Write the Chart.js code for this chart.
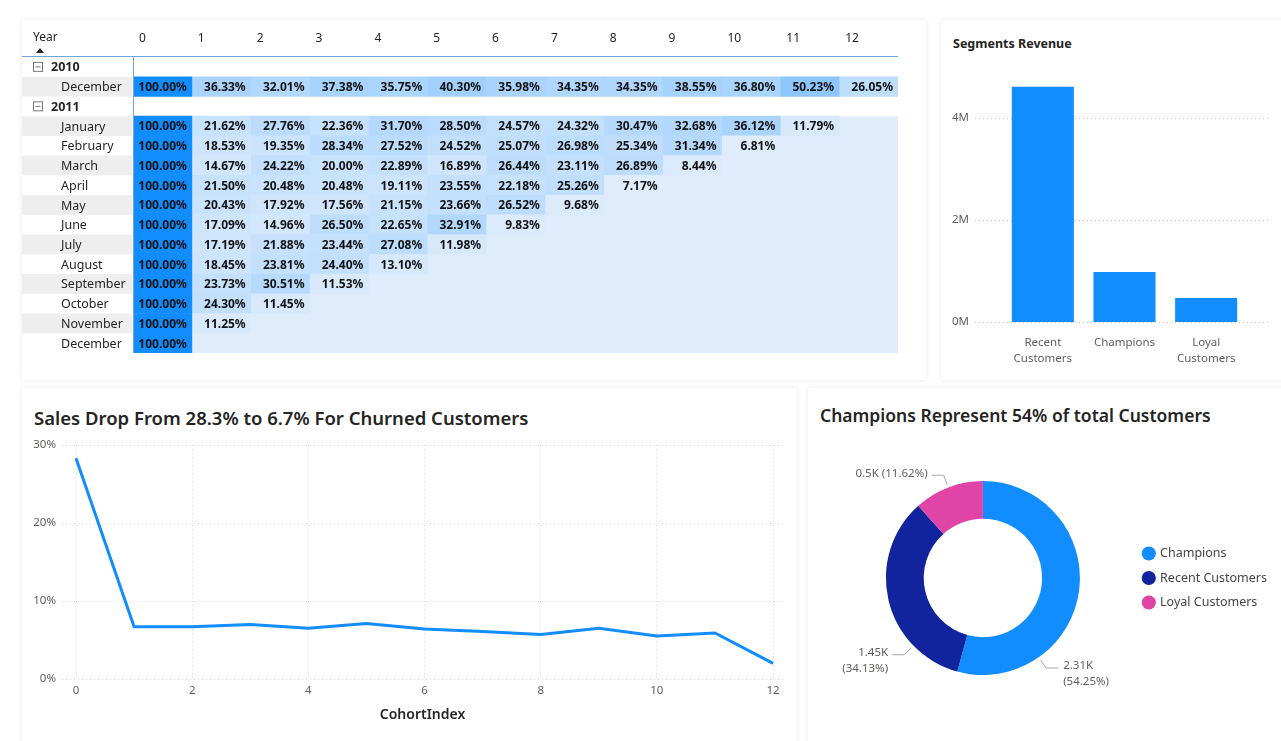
<!DOCTYPE html>
<html>
<head>
<meta charset="utf-8">
<script src="https://cdn.jsdelivr.net/npm/chart.js@4.4.1/dist/chart.umd.min.js"></script>
<style>
  html, body { margin: 0; padding: 0; background: #fff; }
  body { width: 1281px; height: 741px; position: relative; overflow: hidden; font-family: 'Noto Sans', sans-serif; color: #252423; }
  .panel { position: absolute; background: #fff; box-shadow: 0 0 6px rgba(0,0,0,0.08); }
  .title { position: absolute; white-space: nowrap; font-weight: 600; color: #252423; }
  canvas { position: absolute; }
</style>
</head>
<body>
<div class="panel" style="left:22px;top:20px;width:904px;height:360px"></div>
<div class="panel" style="left:941px;top:20px;width:350px;height:360px"></div>
<div class="panel" style="left:22px;top:388px;width:775px;height:365px"></div>
<div class="panel" style="left:808px;top:388px;width:480px;height:365px"></div>

<div class="title" style="left:953px;top:35px;font-size:12.5px;font-weight:700">Segments Revenue</div>
<div class="title" style="left:34px;top:405px;font-size:18.5px">Sales Drop From 28.3% to 6.7% For Churned Customers</div>
<div class="title" style="left:820px;top:403px;font-size:17.5px">Champions Represent 54% of total Customers</div>

<canvas id="cohortChart" width="880" height="335" style="left:22px;top:25px"></canvas>
<canvas id="segmentChart" width="340" height="320" style="left:941px;top:60px"></canvas>
<canvas id="churnChart" width="775" height="305" style="left:22px;top:430px"></canvas>
<canvas id="customerChart" width="473" height="305" style="left:808px;top:430px"></canvas>

<script>
// === DATA ===
const rowLabels = ['2010', 'December', '2011', 'January', 'February', 'March', 'April', 'May',
  'June', 'July', 'August', 'September', 'October', 'November', 'December'];
const cohortIndex = [0, 1, 2, 3, 4, 5, 6, 7, 8, 9, 10, 11, 12];

const retDec2010 = [100, 36.33, 32.01, 37.38, 35.75, 40.30, 35.98, 34.35, 34.35, 38.55, 36.80, 50.23, 26.05];
const ret2011 = [
  [100, 21.62, 27.76, 22.36, 31.70, 28.50, 24.57, 24.32, 30.47, 32.68, 36.12, 11.79], // January
  [100, 18.53, 19.35, 28.34, 27.52, 24.52, 25.07, 26.98, 25.34, 31.34, 6.81],        // February
  [100, 14.67, 24.22, 20.00, 22.89, 16.89, 26.44, 23.11, 26.89, 8.44],               // March
  [100, 21.50, 20.48, 20.48, 19.11, 23.55, 22.18, 25.26, 7.17],                      // April
  [100, 20.43, 17.92, 17.56, 21.15, 23.66, 26.52, 9.68],                             // May
  [100, 17.09, 14.96, 26.50, 22.65, 32.91, 9.83],                                    // June
  [100, 17.19, 21.88, 23.44, 27.08, 11.98],                                          // July
  [100, 18.45, 23.81, 24.40, 13.10],                                                 // August
  [100, 23.73, 30.51, 11.53],                                                        // September
  [100, 24.30, 11.45],                                                               // October
  [100, 11.25],                                                                      // November
  [100]                                                                              // December
];

const segments = [['Recent', 'Customers'], 'Champions', ['Loyal', 'Customers']];
const segmentRevenue = [4610000, 980000, 470000];
const revenueTicks = [0, 2000000, 4000000];

const churnIndex = [0, 1, 2, 3, 4, 5, 6, 7, 8, 9, 10, 11, 12];
const churnSales = [28.3, 6.7, 6.7, 7.0, 6.5, 7.1, 6.4, 6.1, 5.7, 6.5, 5.5, 5.9, 2.0];
const churnTicks = [0, 2, 4, 6, 8, 10, 12];

const customerSegments = ['Champions', 'Recent Customers', 'Loyal Customers'];
const customerCounts = [2311, 1454, 495];

// === SHARED ===
Chart.defaults.font.family = "'Noto Sans', sans-serif";
Chart.defaults.animation = false;
Chart.defaults.plugins.tooltip.enabled = false;
const BLUE = '#118DFF';
const GRAY_TEXT = '#605E5C';

// === COHORT HEATMAP ===
const rowValues = [null, retDec2010, null].concat(ret2011);
const allValues = rowValues.filter(r => r).flat();
const vMin = Math.min(...allValues), vMax = Math.max(...allValues);
const LO = [222, 236, 252], HI = [17, 141, 255];
function heat(v) {
  const t = Math.pow((v - vMin) / (vMax - vMin), 1.2);
  const c = LO.map((lo, k) => Math.round(lo + (HI[k] - lo) * t));
  return 'rgb(' + c.join(',') + ')';
}

const cohortDatasets = cohortIndex.map(c => ({
  data: rowValues.map(r => (r && r[c] != null) ? [c, c + 1] : null),
  backgroundColor: ctx => {
    const r = rowValues[ctx.dataIndex];
    return r && r[c] != null ? heat(r[c]) : 'transparent';
  },
  grouped: false,
  barPercentage: 1,
  categoryPercentage: 1,
  borderWidth: 0
}));

const cohortDecor = {
  id: 'cohortDecor',
  beforeDatasetsDraw(chart) {
    const { ctx, chartArea } = chart;
    const xs = chart.scales.x, ys = chart.scales.y;
    const h = ys.getPixelForValue(1) - ys.getPixelForValue(0);
    ctx.save();
    // row header stripes
    rowLabels.forEach((lab, i) => {
      if (i % 2 === 1) {
        ctx.fillStyle = '#EEEEEE';
        ctx.fillRect(0, ys.getPixelForValue(i) - h / 2, chartArea.left - 1, h);
      }
    });
    // empty cells of the 2011 block
    ctx.fillStyle = heat(vMin);
    const top = ys.getPixelForValue(3) - h / 2;
    const bottom = ys.getPixelForValue(rowLabels.length - 1) + h / 2;
    ctx.fillRect(xs.getPixelForValue(0), top, xs.getPixelForValue(13) - xs.getPixelForValue(0), bottom - top);
    ctx.restore();
  },
  afterDatasetsDraw(chart) {
    const { ctx, chartArea } = chart;
    const ys = chart.scales.y;
    ctx.save();
    // cell values
    ctx.font = "bold 12px 'Noto Sans'";
    ctx.fillStyle = '#111';
    ctx.textAlign = 'right';
    ctx.textBaseline = 'middle';
    cohortIndex.forEach(c => {
      chart.getDatasetMeta(c).data.forEach((bar, i) => {
        const r = rowValues[i];
        if (!r || r[c] == null) return;
        ctx.fillText(r[c].toFixed(2) + '%', bar.x - 5, bar.y + 1);
      });
    });
    // row headers
    ctx.textAlign = 'left';
    rowLabels.forEach((lab, i) => {
      const y = ys.getPixelForValue(i) + 1;
      if (rowValues[i] === null) {
        ctx.strokeStyle = '#777';
        ctx.lineWidth = 1;
        ctx.strokeRect(11.5, y - 5.5, 9, 9);
        ctx.beginPath();
        ctx.moveTo(13.5, y - 1); ctx.lineTo(18.5, y - 1);
        ctx.stroke();
        ctx.font = "bold 12.5px 'Noto Sans'";
        ctx.fillStyle = '#252423';
        ctx.fillText(lab, 29, y);
      } else {
        ctx.font = "12.5px 'Noto Sans'";
        ctx.fillStyle = '#252423';
        ctx.fillText(lab, 39, y);
      }
    });
    // header
    ctx.font = "12px 'Noto Sans'";
    ctx.fillText('Year', 11, 13);
    ctx.beginPath();
    ctx.moveTo(14, 28); ctx.lineTo(18, 23); ctx.lineTo(22, 28); ctx.closePath();
    ctx.fillStyle = '#252423';
    ctx.fill();
    // lines
    ctx.strokeStyle = '#6FA3DA';
    ctx.lineWidth = 1;
    ctx.beginPath();
    ctx.moveTo(0, chartArea.top - 0.5); ctx.lineTo(chartArea.right, chartArea.top - 0.5);
    ctx.moveTo(chartArea.left + 0.5, chartArea.top); ctx.lineTo(chartArea.left + 0.5, chartArea.bottom);
    ctx.stroke();
    ctx.restore();
  }
};

new Chart(document.getElementById('cohortChart'), {
  type: 'bar',
  data: { labels: rowLabels, datasets: cohortDatasets },
  options: {
    indexAxis: 'y',
    responsive: false,
    layout: { padding: { right: 4, bottom: 7 } },
    plugins: { legend: { display: false } },
    scales: {
      x: {
        type: 'linear', position: 'top', min: 0, max: 13,
        afterBuildTicks: s => { s.ticks = cohortIndex.map(v => ({ value: v })); },
        afterFit: s => { s.height = 32; },
        grid: { display: false, drawTicks: false },
        border: { display: false },
        ticks: { align: 'start', labelOffset: 6, padding: 11, color: '#252423', font: { size: 12 } }
      },
      y: {
        afterFit: s => { s.width = 111; },
        grid: { display: false, drawTicks: false },
        border: { display: false },
        ticks: { display: false }
      }
    }
  },
  plugins: [cohortDecor]
});

// === SEGMENTS REVENUE ===
const dottedGrid = {
  id: 'dottedGrid',
  beforeDatasetsDraw(chart, args, opts) {
    const { ctx } = chart;
    const ys = chart.scales.y;
    ctx.save();
    ctx.strokeStyle = '#C8C6C4';
    ctx.lineWidth = 1;
    ctx.setLineDash([1, 3]);
    ys.ticks.forEach(t => {
      const y = Math.round(ys.getPixelForValue(t.value)) + 0.5;
      ctx.beginPath();
      ctx.moveTo(opts.from, y); ctx.lineTo(opts.to, y);
      ctx.stroke();
    });
    ctx.restore();
  }
};

new Chart(document.getElementById('segmentChart'), {
  type: 'bar',
  data: {
    labels: segments,
    datasets: [{ data: segmentRevenue, backgroundColor: BLUE, barPercentage: 1, categoryPercentage: 0.76 }]
  },
  options: {
    responsive: false,
    layout: { padding: { top: 17, right: 34, left: 11 } },
    plugins: { legend: { display: false }, dottedGrid: { from: 34, to: 329 } },
    scales: {
      x: {
        afterFit: s => { s.height = 58; },
        grid: { display: false, drawTicks: false },
        border: { display: false },
        ticks: { padding: 13, maxRotation: 0, color: GRAY_TEXT, font: { size: 11.5, lineHeight: 1.4 } }
      },
      y: {
        min: 0, max: 4800000,
        afterBuildTicks: s => { s.ticks = revenueTicks.map(v => ({ value: v })); },
        afterFit: s => { s.width = 50; },
        grid: { display: false, drawTicks: false },
        border: { display: false },
        ticks: { padding: 0, crossAlign: 'far', color: GRAY_TEXT, font: { size: 11.5 }, callback: v => (v / 1000000) + 'M' }
      }
    }
  },
  plugins: [dottedGrid]
});

// === CHURNED CUSTOMERS LINE ===
new Chart(document.getElementById('churnChart'), {
  type: 'line',
  data: {
    datasets: [{
      data: churnSales.map((v, i) => ({ x: churnIndex[i], y: v })),
      borderColor: BLUE,
      borderWidth: 3,
      pointRadius: 0,
      tension: 0
    }]
  },
  options: {
    responsive: false,
    layout: { padding: { top: 15, right: 13.5 } },
    plugins: { legend: { display: false } },
    scales: {
      x: {
        type: 'linear', min: -0.25, max: 12.18,
        afterBuildTicks: s => { s.ticks = churnTicks.map(v => ({ value: v })); },
        afterFit: s => { s.height = 56; },
        grid: { color: '#D6D6D6', drawTicks: false },
        border: { display: false, dash: [1, 3] },
        ticks: { padding: 5, color: GRAY_TEXT, font: { size: 11.5 } },
        title: { display: true, text: 'CohortIndex', color: '#252423', font: { size: 14, weight: '600' }, padding: { top: 2, bottom: 12 } }
      },
      y: {
        min: 0, max: 30,
        afterFit: s => { s.width = 39.5; },
        grid: { color: '#D6D6D6', drawTicks: false },
        border: { display: false, dash: [1, 3] },
        ticks: { stepSize: 10, padding: 5.5, color: GRAY_TEXT, font: { size: 11.5 }, callback: v => v + '%' }
      }
    }
  }
});

// === CUSTOMER SEGMENTS DONUT ===
const customerTotal = customerCounts.reduce((a, b) => a + b, 0);
const donutLabels = {
  id: 'donutLabels',
  afterDatasetsDraw(chart, args, opts) {
    const { ctx } = chart;
    ctx.save();
    ctx.font = "11.5px 'Noto Sans'";
    ctx.textBaseline = 'middle';
    chart.getDatasetMeta(0).data.forEach((arc, i) => {
      const v = customerCounts[i];
      const a = arc.startAngle + (arc.endAngle - arc.startAngle) * opts.anchor[i];
      const r = arc.outerRadius;
      const x1 = arc.x + Math.cos(a) * (r + 3), y1 = arc.y + Math.sin(a) * (r + 3);
      const x2 = arc.x + Math.cos(a) * (r + 13), y2 = arc.y + Math.sin(a) * (r + 13);
      const right = Math.cos(a) >= 0;
      const x3 = x2 + (right ? 12 : -12);
      ctx.strokeStyle = '#A6A6A6';
      ctx.lineWidth = 1;
      ctx.beginPath();
      ctx.moveTo(x1, y1); ctx.lineTo(x2, y2); ctx.lineTo(x3, y2);
      ctx.stroke();
      const k = (Math.round(v / 10) / 100) + 'K';
      const pct = '(' + (v / customerTotal * 100).toFixed(2) + '%)';
      const lines = opts.singleLine[i] ? [k + ' ' + pct] : [k, pct];
      ctx.fillStyle = GRAY_TEXT;
      ctx.textAlign = right ? 'left' : 'right';
      lines.forEach((t, j) => ctx.fillText(t, x3 + (right ? 5 : -4), y2 - 2 + j * 16));
    });
    ctx.restore();
  }
};

new Chart(document.getElementById('customerChart'), {
  type: 'doughnut',
  data: {
    labels: customerSegments,
    datasets: [{
      data: customerCounts,
      backgroundColor: [BLUE, '#12239E', '#E044A7'],
      borderWidth: 0
    }]
  },
  options: {
    responsive: false,
    cutout: '61%',
    layout: { padding: { left: 26, right: 4, top: 51, bottom: 60 } },
    plugins: {
      legend: {
        position: 'right',
        labels: {
          usePointStyle: true, pointStyle: 'circle', boxWidth: 10, boxHeight: 10,
          padding: 12, color: '#444', font: { size: 12.5 }
        }
      },
      donutLabels: { anchor: [0.742, 0.248, 0.5], singleLine: [false, false, true] }
    }
  },
  plugins: [donutLabels]
});
</script>
</body>
</html>
